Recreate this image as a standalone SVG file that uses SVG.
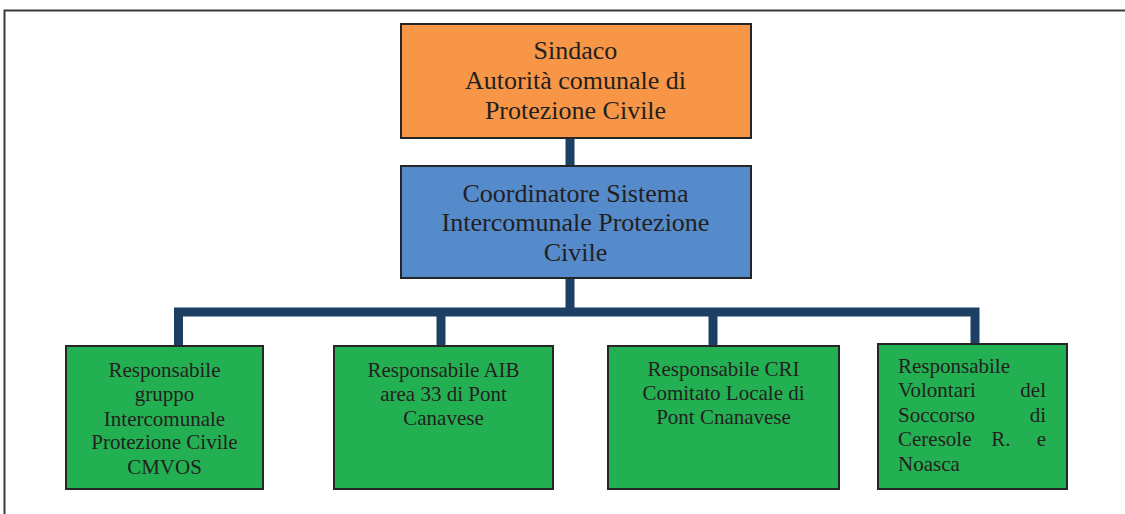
<svg xmlns="http://www.w3.org/2000/svg" width="1125" height="514" viewBox="0 0 1125 514">
<style>
.box{stroke:#262626;stroke-width:2}
.t{font-family:"Liberation Serif","Times New Roman",serif;fill:#231f20;text-anchor:middle}
.big{font-size:26px}
.sm{font-size:21px}
.l{text-anchor:start}
.r{text-anchor:end}
.con{fill:none;stroke:#1c3f63;stroke-width:9}
</style>
<rect x="0" y="0" width="1125" height="514" fill="#ffffff"/>
<path d="M4.5 514 V10.5 H1125" fill="none" stroke="#3a3a3a" stroke-width="2"/>
<g id="connectors">
<line class="con" x1="570" y1="138" x2="570" y2="166"/>
<line class="con" x1="570" y1="278" x2="570" y2="312"/>
<path class="con" d="M178.5 346 V312 H975 V344"/>
<line class="con" x1="441" y1="312" x2="441" y2="346"/>
<line class="con" x1="713" y1="312" x2="713" y2="346"/>
</g>
<g id="sindaco">
<rect class="box" x="401" y="24" width="350" height="114" fill="#f79646"/>
<text class="t big" x="575.5" y="59">Sindaco</text>
<text class="t big" x="575.5" y="89">Autorità comunale di</text>
<text class="t big" x="575.5" y="119">Protezione Civile</text>
</g>
<g id="coordinatore">
<rect class="box" x="401" y="166" width="350" height="112" fill="#558acb"/>
<text class="t big" x="575.5" y="202">Coordinatore Sistema</text>
<text class="t big" x="575.5" y="231">Intercomunale Protezione</text>
<text class="t big" x="575.5" y="261">Civile</text>
</g>
<g id="cmvos">
<rect class="box" x="66" y="346" width="197" height="143" fill="#23b052"/>
<text class="t sm" x="164.5" y="377">Responsabile</text>
<text class="t sm" x="164.5" y="401">gruppo</text>
<text class="t sm" x="164.5" y="426">Intercomunale</text>
<text class="t sm" x="164.5" y="449">Protezione Civile</text>
<text class="t sm" x="164.5" y="474">CMVOS</text>
</g>
<g id="aib">
<rect class="box" x="334" y="346" width="219" height="143" fill="#23b052"/>
<text class="t sm" x="443.5" y="377">Responsabile AIB</text>
<text class="t sm" x="443.5" y="401">area 33 di Pont</text>
<text class="t sm" x="443.5" y="425">Canavese</text>
</g>
<g id="cri">
<rect class="box" x="608" y="346" width="231" height="143" fill="#23b052"/>
<text class="t sm" x="723.5" y="376">Responsabile CRI</text>
<text class="t sm" x="723.5" y="400">Comitato Locale di</text>
<text class="t sm" x="723.5" y="424">Pont Cnanavese</text>
</g>
<g id="volontari">
<rect class="box" x="878" y="344" width="189" height="145" fill="#23b052"/>
<text class="t sm l" x="898" y="373">Responsabile</text>
<text class="t sm l" x="898" y="397">Volontari</text>
<text class="t sm r" x="1046" y="397">del</text>
<text class="t sm l" x="898" y="422">Soccorso</text>
<text class="t sm r" x="1046" y="422">di</text>
<text class="t sm l" x="898" y="446">Ceresole</text>
<text class="t sm" x="1001" y="446">R.</text>
<text class="t sm r" x="1046" y="446">e</text>
<text class="t sm l" x="898" y="471">Noasca</text>
</g>
</svg>
